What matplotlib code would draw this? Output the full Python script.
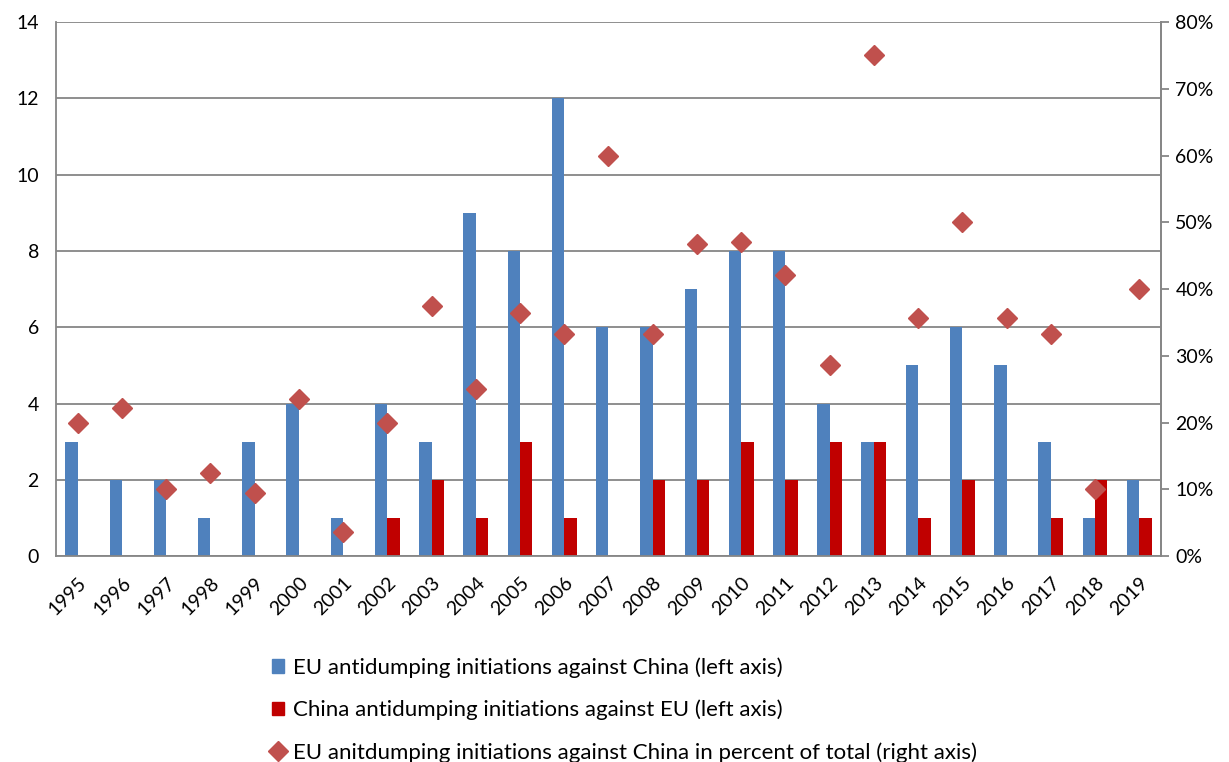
import numpy as np
import matplotlib.pyplot as plt
from matplotlib.lines import Line2D
from matplotlib.patches import Patch
from matplotlib.ticker import PercentFormatter

plt.rcParams['font.family'] = ['Lato', 'DejaVu Sans']

years = [str(y) for y in range(1995, 2020)]
eu_vs_china = [3, 2, 2, 1, 3, 4, 1, 4, 3, 9, 8, 12, 6, 6, 7, 8, 8, 4, 3, 5, 6, 5, 3, 1, 2]
china_vs_eu = [0, 0, 0, 0, 0, 0, 0, 1, 2, 1, 3, 1, 0, 2, 2, 3, 2, 3, 3, 1, 2, 0, 1, 2, 1]
eu_china_share = [20.0, 22.2, 10.0, 12.5, 9.5, 23.5, 3.6, 20.0, 37.5, 25.0, 36.4, 33.3, 60.0,
                  33.3, 46.7, 47.1, 42.1, 28.6, 75.0, 35.7, 50.0, 35.7, 33.3, 10.0, 40.0]

labels = ['EU antidumping initiations against China (left axis)',
          'China antidumping initiations against EU (left axis)',
          'EU anitdumping initiations against China in percent of total (right axis)']

blue, red, diam = '#4F81BD', '#C00000', '#C0504D'
grid_c = '#868686'

fig = plt.figure(figsize=(12.29, 7.62), dpi=100)
ax = fig.add_axes([0.0452, 0.270, 0.8998, 0.701])

x = np.arange(len(years))
w = 0.28
ax.bar(x - w / 2, eu_vs_china, width=w, color=blue, zorder=2)
ax.bar(x + w / 2, china_vs_eu, width=w, color=red, zorder=2)

ax.set_xlim(-0.5, len(years) - 0.5)
ax.set_ylim(0, 14)
ax.set_yticks(range(0, 15, 2))
ax.yaxis.grid(True, color=grid_c, lw=1.3, zorder=0)
ax.set_axisbelow(True)
ax.tick_params(axis='y', length=0, labelsize=14, pad=12)
ax.set_xticks(x)
ax.set_xticklabels(years, rotation=45, ha='right', rotation_mode='anchor', fontsize=14)
ax.tick_params(axis='x', length=0, pad=13)
for s in ['left', 'right', 'bottom']:
    ax.spines[s].set_color(grid_c)
    ax.spines[s].set_linewidth(1.3)
ax.spines['top'].set_visible(False)

ax2 = ax.twinx()
ax2.plot(x, eu_china_share, ls='none', marker='D', ms=10, color=diam, zorder=3)
ax2.set_ylim(0, 80)
ax2.set_yticks(range(0, 81, 10))
ax2.yaxis.set_major_formatter(PercentFormatter(decimals=0))
ax2.tick_params(axis='y', length=6, width=1.3, color=grid_c, labelsize=14, pad=4)
for s in ['left', 'top', 'bottom']:
    ax2.spines[s].set_visible(False)
ax2.spines['right'].set_color(grid_c)
ax2.spines['right'].set_linewidth(1.3)

handles = [Patch(color=blue), Patch(color=red),
           Line2D([], [], ls='none', marker='D', ms=10, color=diam)]
fig.legend(handles, labels, loc='upper left', bbox_to_anchor=(0.212, 0.152),
           frameon=False, fontsize=16, handlelength=0.55, handleheight=0.55,
           handletextpad=0.4, labelspacing=0.98, borderpad=0)

fig.savefig('out.png', dpi=100)
